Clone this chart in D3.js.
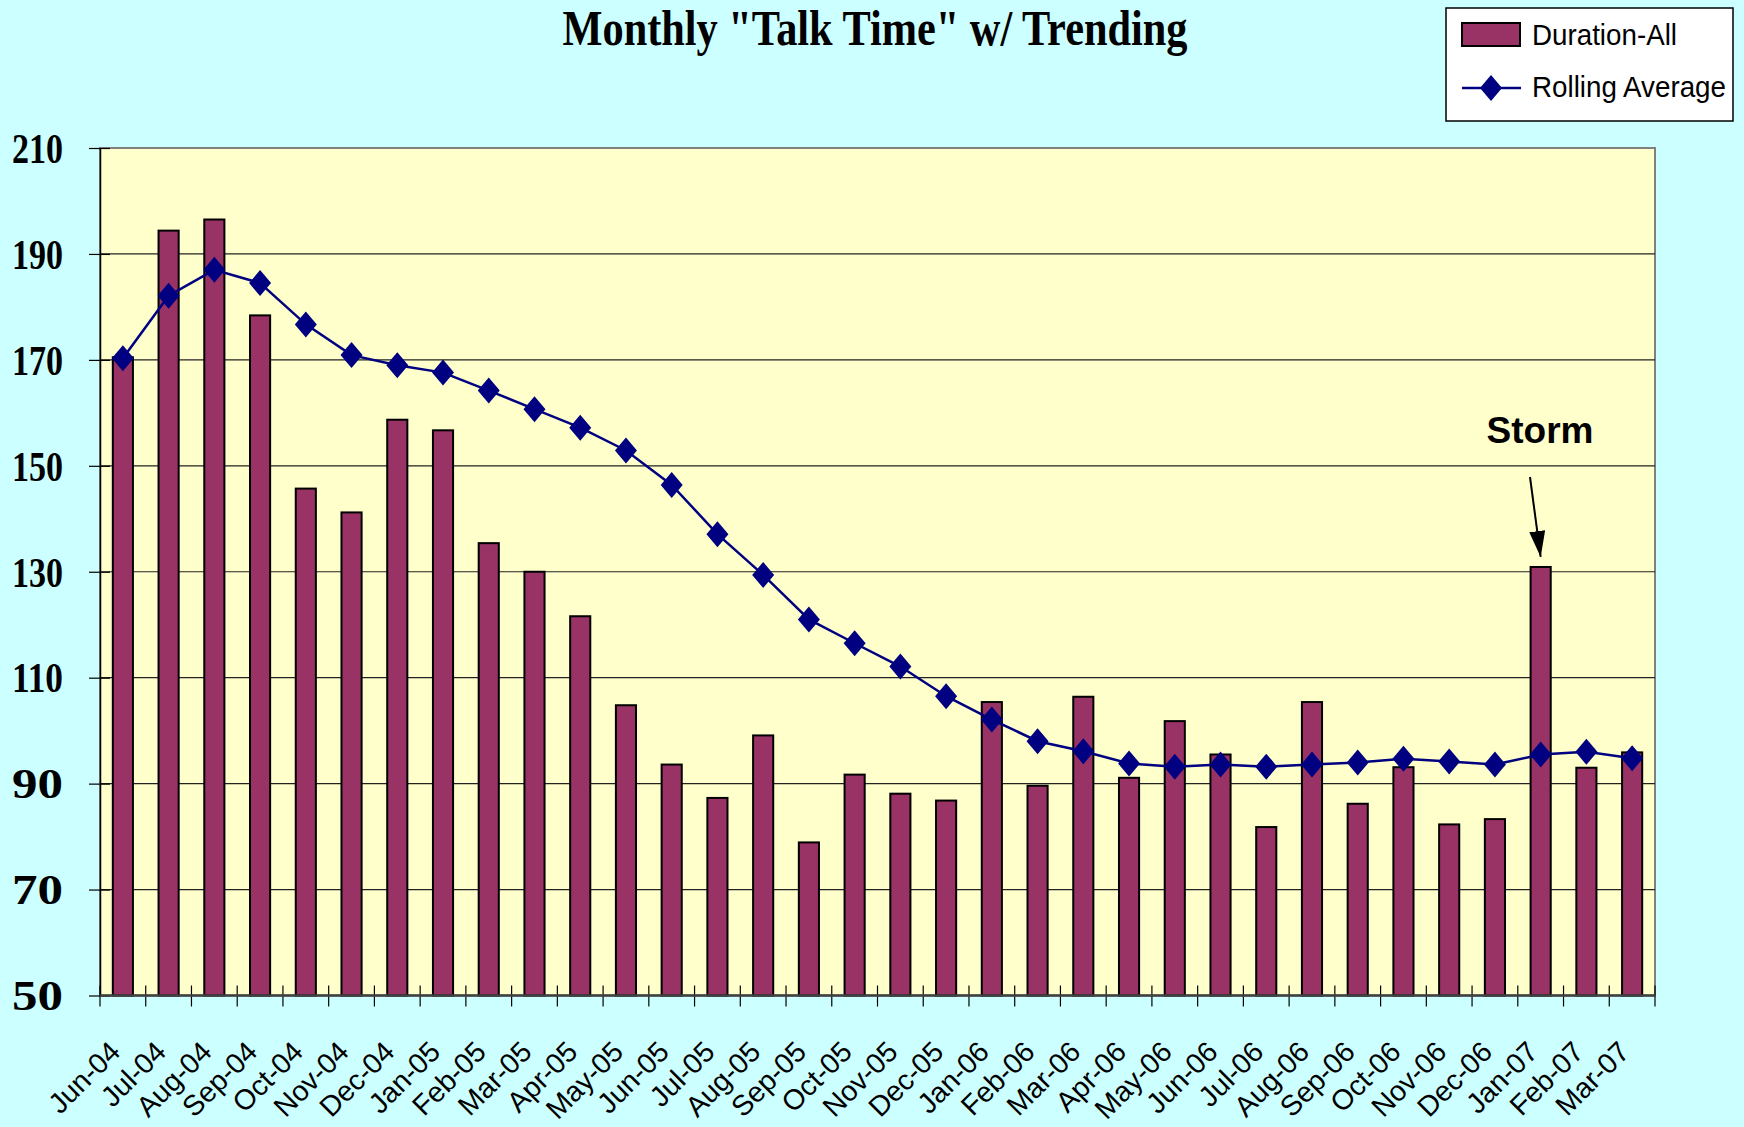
<!DOCTYPE html>
<html>
<head>
<meta charset="utf-8">
<script src="https://cdnjs.cloudflare.com/ajax/libs/d3/7.8.5/d3.min.js"></script>
<style>
  html, body { margin: 0; padding: 0; background: #ccffff; }
  svg { display: block; }
</style>
</head>
<body>
<svg id="chart"></svg>
<script>
let months = ['Jun-04','Jul-04','Aug-04','Sep-04','Oct-04','Nov-04','Dec-04',
  'Jan-05','Feb-05','Mar-05','Apr-05','May-05','Jun-05','Jul-05','Aug-05','Sep-05','Oct-05','Nov-05','Dec-05',
  'Jan-06','Feb-06','Mar-06','Apr-06','May-06','Jun-06','Jul-06','Aug-06','Sep-06','Oct-06','Nov-06','Dec-06',
  'Jan-07','Feb-07','Mar-07']

let duration = [170.5, 194.4, 196.5, 178.4, 145.7, 141.2, 158.7,
  156.7, 135.4, 130.0, 121.6, 104.8, 93.6, 87.3, 99.1, 78.9, 91.7, 88.1, 86.8,
  105.4, 89.6, 106.4, 91.1, 101.8, 95.5, 81.8, 105.4, 86.2, 93.1, 82.3, 83.3,
  130.9, 93.0, 95.9]

let rolling = [170.3, 182.1, 187.0, 184.5, 176.7, 170.9, 169.0,
  167.6, 164.2, 160.7, 157.2, 152.9, 146.4, 137.1, 129.4, 121.0, 116.5, 112.1, 106.5,
  102.1, 98.0, 96.1, 93.8, 93.2, 93.6, 93.2, 93.6, 94.0, 94.7, 94.2, 93.6,
  95.5, 96.0, 94.8]

let yTicks = [50, 70, 90, 110, 130, 150, 170, 190, 210]

let seriesNames = ['Duration-All', 'Rolling Average']

let w = 1744
let h = 1127
let plotLeft = 100, plotRight = 1655, plotTop = 148, plotBottom = 995.5

let svg = d3.select('#chart').attr('width', w).attr('height', h)

svg.append('rect').attr('width', w).attr('height', h).attr('fill', '#ccffff')

let xScale = d3.scaleBand()
  .domain(months)
  .range([plotLeft, plotRight])
  .paddingInner(0.56)
  .paddingOuter(0.28)

let yScale = d3.scaleLinear()
  .domain([50, 210])
  .range([plotBottom, plotTop])

// plot area
svg.append('rect')
  .attr('x', plotLeft).attr('y', plotTop)
  .attr('width', plotRight - plotLeft).attr('height', plotBottom - plotTop)
  .attr('fill', '#ffffcc')
  .attr('stroke', '#808080')
  .attr('stroke-width', 2)

// gridlines
svg.append('g')
  .selectAll('line')
  .data(yTicks.filter(d => d > 50 && d < 210))
  .enter()
  .append('line')
  .attr('x1', plotLeft).attr('x2', plotRight)
  .attr('y1', d => yScale(d)).attr('y2', d => yScale(d))
  .attr('stroke', '#222')
  .attr('stroke-width', 1.2)

// bars
svg.append('g')
  .selectAll('rect')
  .data(duration)
  .enter()
  .append('rect')
  .attr('x', (d, i) => xScale(months[i]))
  .attr('y', d => yScale(d))
  .attr('width', xScale.bandwidth())
  .attr('height', d => plotBottom - yScale(d))
  .attr('fill', '#993366')
  .attr('stroke', '#000')
  .attr('stroke-width', 2)

// y axis
let yAxis = d3.axisLeft(yScale).tickValues(yTicks).tickSize(10).tickSizeOuter(0).tickFormat(d3.format('d'))
let yg = svg.append('g')
  .attr('transform', 'translate(' + plotLeft + ',0)')
  .call(yAxis)
yg.select('.domain').attr('stroke', '#000').attr('stroke-width', 1.5)
yg.selectAll('.tick line').attr('x2', -11).attr('x1', 10).attr('stroke', '#000').attr('stroke-width', 1.2)
yg.selectAll('.tick text')
  .attr('x', -37)
  .attr('dy', '0.34em')
  .attr('text-anchor', 'end')
  .attr('font-family', '"Liberation Serif", "Times New Roman", serif')
  .attr('font-weight', 'bold')
  .attr('font-size', 42)
  .attr('fill', '#000')
  .attr('textLength', 51)
  .attr('lengthAdjust', 'spacingAndGlyphs')

// x axis: ticks at category boundaries
let step = xScale.step()
let boundaries = d3.range(months.length + 1).map(i => plotLeft + i * step)
svg.append('g')
  .selectAll('line')
  .data(boundaries)
  .enter()
  .append('line')
  .attr('x1', d => d).attr('x2', d => d)
  .attr('y1', plotBottom - 10).attr('y2', plotBottom + 11)
  .attr('stroke', '#000')
  .attr('stroke-width', 1.2)

svg.append('line')
  .attr('x1', plotLeft).attr('x2', plotRight)
  .attr('y1', plotBottom).attr('y2', plotBottom)
  .attr('stroke', '#404040')
  .attr('stroke-width', 2.5)

let xAxis = d3.axisBottom(xScale).tickSize(0)
let xg = svg.append('g')
  .attr('transform', 'translate(0,' + plotBottom + ')')
  .call(xAxis)
xg.select('.domain').remove()
xg.selectAll('.tick text')
  .attr('y', 0)
  .attr('dy', 0)
  .attr('text-anchor', 'end')
  .attr('font-family', '"Liberation Sans", Arial, sans-serif')
  .attr('font-size', 28.5)
  .attr('fill', '#000')
  .attr('transform', 'translate(-1,58) rotate(-45)')

// rolling average line
let line = d3.line()
  .x((d, i) => xScale(months[i]) + xScale.bandwidth() / 2)
  .y(d => yScale(d))

svg.append('path')
  .datum(rolling)
  .attr('d', line)
  .attr('fill', 'none')
  .attr('stroke', '#000080')
  .attr('stroke-width', 2.5)

let diamond = 'M0,-13L11,0L0,13L-11,0Z'
svg.append('g')
  .selectAll('path')
  .data(rolling)
  .enter()
  .append('path')
  .attr('d', diamond)
  .attr('transform', (d, i) => 'translate(' + (xScale(months[i]) + xScale.bandwidth() / 2) + ',' + yScale(d) + ')')
  .attr('fill', '#000080')

// title
svg.append('text')
  .attr('x', 875).attr('y', 45)
  .attr('text-anchor', 'middle')
  .attr('font-family', '"Liberation Serif", "Times New Roman", serif')
  .attr('font-weight', 'bold')
  .attr('font-size', 50)
  .attr('textLength', 625)
  .attr('lengthAdjust', 'spacingAndGlyphs')
  .text('Monthly "Talk Time" w/ Trending')

// storm annotation
let stormIdx = months.indexOf('Jan-07')
let stormX = xScale(months[stormIdx]) + xScale.bandwidth() / 2
svg.append('text')
  .attr('x', 1540).attr('y', 443)
  .attr('text-anchor', 'middle')
  .attr('font-family', '"Liberation Sans", Arial, sans-serif')
  .attr('font-weight', 'bold')
  .attr('font-size', 37)
  .text('Storm')

svg.append('defs').append('marker')
  .attr('id', 'arrow')
  .attr('viewBox', '0 0 26 16')
  .attr('refX', 26).attr('refY', 8)
  .attr('markerWidth', 26).attr('markerHeight', 16)
  .attr('markerUnits', 'userSpaceOnUse')
  .attr('orient', 'auto')
  .append('path')
  .attr('d', 'M0,0L26,8L0,16Z')
  .attr('fill', '#000')

svg.append('line')
  .attr('x1', 1530).attr('y1', 477)
  .attr('x2', stormX).attr('y2', yScale(duration[stormIdx]) - 10)
  .attr('stroke', '#000')
  .attr('stroke-width', 2)
  .attr('marker-end', 'url(#arrow)')

// legend
let lg = svg.append('g')
lg.append('rect')
  .attr('x', 1446).attr('y', 8)
  .attr('width', 287).attr('height', 113)
  .attr('fill', '#fff')
  .attr('stroke', '#000')
  .attr('stroke-width', 1.5)

lg.append('rect')
  .attr('x', 1462).attr('y', 23)
  .attr('width', 58).attr('height', 23)
  .attr('fill', '#993366')
  .attr('stroke', '#000')
  .attr('stroke-width', 2)

lg.append('line')
  .attr('x1', 1462).attr('x2', 1521)
  .attr('y1', 88).attr('y2', 88)
  .attr('stroke', '#000080')
  .attr('stroke-width', 2.5)
lg.append('path')
  .attr('d', diamond)
  .attr('transform', 'translate(1491,88)')
  .attr('fill', '#000080')

lg.selectAll('text.leg')
  .data(seriesNames)
  .enter()
  .append('text')
  .attr('class', 'leg')
  .attr('x', 1532)
  .attr('y', (d, i) => i === 0 ? 45 : 97)
  .attr('font-family', '"Liberation Sans", Arial, sans-serif')
  .attr('font-size', 30)
  .attr('textLength', (d, i) => i === 0 ? 145 : 194)
  .attr('lengthAdjust', 'spacingAndGlyphs')
  .text(d => d)
</script>
</body>
</html>
